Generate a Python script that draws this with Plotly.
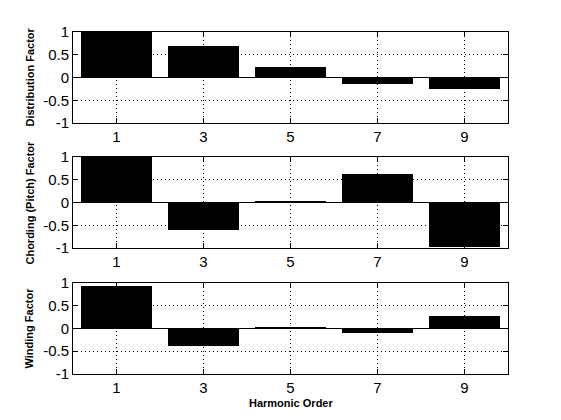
import plotly.graph_objects as go
from plotly.subplots import make_subplots

harmonics = [1, 3, 5, 7, 9]
distribution = [1.0, 0.69, 0.22, -0.14, -0.26]
chording = [1.0, -0.615, 0.02, 0.62, -0.97]
winding = [0.94, -0.39, 0.015, -0.10, 0.27]
ylabels = ["Distribution Factor", "Chording (Pitch) Factor", "Winding Factor"]
xlabel = "Harmonic Order"
yticks = [-1, -0.5, 0, 0.5, 1]

fig = go.Figure()
series = [distribution, chording, winding]
domains = [[0.7339, 1.0], [0.3684, 0.6345], [0.0, 0.2661]]
font_tick = dict(family="Liberation Sans, Arial", size=15, color="black")

for i, vals in enumerate(series):
    n = "" if i == 0 else str(i + 1)
    fig.add_trace(go.Bar(x=harmonics, y=vals, width=1.64,
                         marker=dict(color="black", line=dict(width=0)),
                         xaxis="x" + n, yaxis="y" + n, showlegend=False))
    fig.update_layout(**{
        "xaxis" + n: dict(range=[0, 10], tickvals=harmonics, ticktext=[str(h) for h in harmonics],
                          domain=[0, 1], anchor="y" + n,
                          showline=True, linecolor="black", linewidth=1, mirror="ticks",
                          ticks="inside", ticklen=5, tickcolor="black",
                          showgrid=True, gridcolor="black", gridwidth=1, griddash="1px,3px",
                          zeroline=False, tickfont=font_tick, fixedrange=True),
        "yaxis" + n: dict(range=[-1, 1], tickvals=yticks, ticktext=["-1", "-0.5", "0", "0.5", "1"],
                          domain=domains[i], anchor="x" + n,
                          showline=True, linecolor="black", linewidth=1, mirror="ticks",
                          ticks="inside", ticklen=5, tickcolor="black",
                          showgrid=True, gridcolor="black", gridwidth=1, griddash="1px,3px",
                          zeroline=True, zerolinecolor="black", zerolinewidth=1,
                          tickfont=font_tick, fixedrange=True),
    })
    fig.add_annotation(text="<b>" + ylabels[i] + "</b>", xref="paper", yref="paper",
                       x=-0.1011, y=(domains[i][0] + domains[i][1]) / 2, textangle=-90,
                       showarrow=False, xanchor="center", yanchor="middle",
                       font=dict(family="Liberation Sans, Arial", size=11, color="black"))

fig.add_annotation(text="<b>" + xlabel + "</b>", xref="paper", yref="paper",
                   x=0.5, y=-0.0848, showarrow=False, xanchor="center", yanchor="middle",
                   font=dict(family="Liberation Sans, Arial", size=11, color="black"))

fig.update_layout(width=561, height=420, margin=dict(l=73, r=53, t=32, b=46),
                  paper_bgcolor="white", plot_bgcolor="white", bargap=0)

fig.write_html("out.html")
